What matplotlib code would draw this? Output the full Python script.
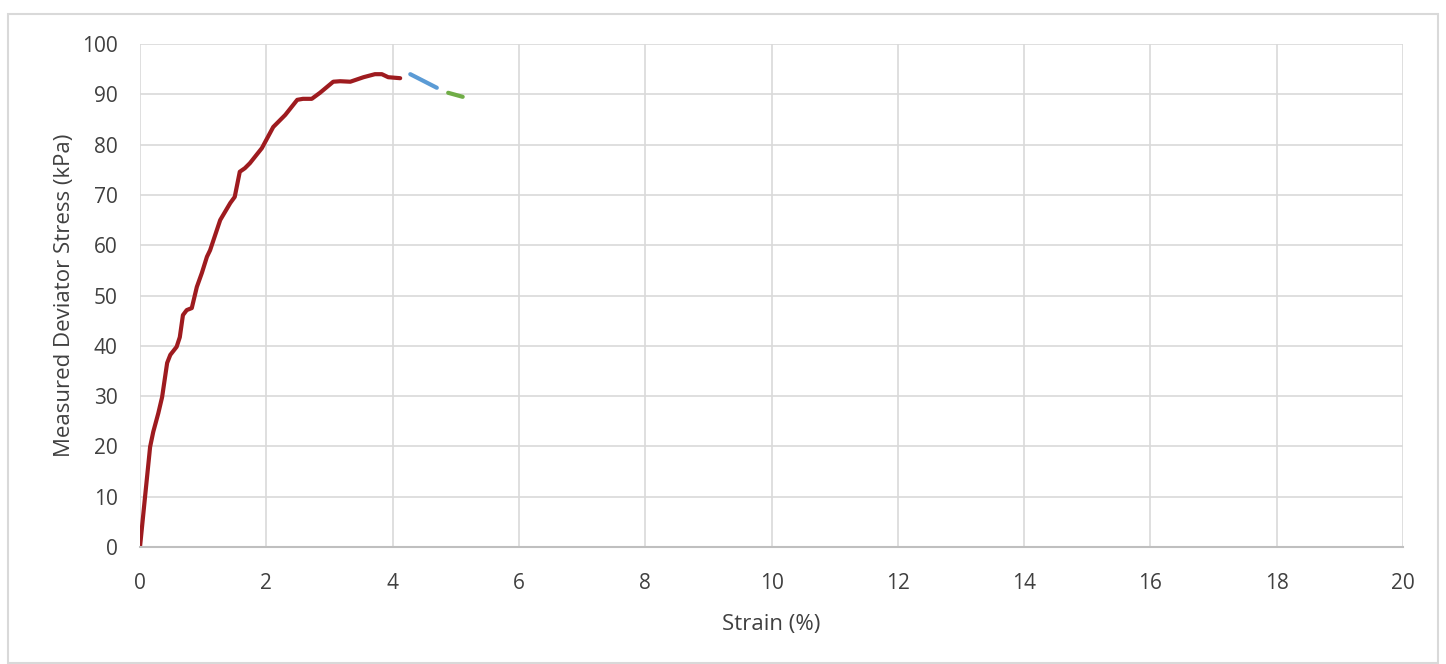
import numpy as np
import matplotlib.pyplot as plt
from matplotlib.patches import Rectangle

# Stress-strain curve (strain %, deviator stress kPa)
strain_main = [0, 0.08, 0.16, 0.21, 0.29, 0.35, 0.43, 0.48, 0.58, 0.63, 0.68, 0.74,
               0.82, 0.90, 0.98, 1.06, 1.11, 1.27, 1.43, 1.50, 1.58, 1.66, 1.74,
               1.93, 2.11, 2.30, 2.49, 2.58, 2.72, 2.85, 3.06, 3.17, 3.33, 3.54,
               3.72, 3.83, 3.93, 4.12]
stress_main = [0, 10.0, 19.9, 22.9, 26.6, 29.8, 36.6, 38.2, 39.8, 41.7, 46.1, 47.1,
               47.5, 51.7, 54.5, 57.7, 59.0, 65.0, 68.4, 69.6, 74.6, 75.3, 76.3,
               79.3, 83.5, 85.9, 88.9, 89.1, 89.1, 90.3, 92.5, 92.6, 92.5, 93.4,
               94.0, 94.0, 93.4, 93.2]

strain_blue = [4.28, 4.70]
stress_blue = [94.0, 91.3]

strain_green = [4.88, 5.11]
stress_green = [90.3, 89.5]

xticks = np.arange(0, 21, 2)
yticks = np.arange(0, 101, 10)

plt.rcParams['font.family'] = ['Open Sans', 'DejaVu Sans']

fig = plt.figure(figsize=(14.46, 6.64), dpi=100)
ax = fig.add_axes([140 / 1446, 1 - 547 / 664, (1403 - 140) / 1446, (547 - 44) / 664])

ax.plot(strain_main, stress_main, color='#9E1B1F', lw=3, solid_capstyle='round',
        solid_joinstyle='round')
ax.plot(strain_blue, stress_blue, color='#5B9BD5', lw=3, solid_capstyle='round')
ax.plot(strain_green, stress_green, color='#70AD47', lw=3, solid_capstyle='round')

ax.set_xlim(0, 20)
ax.set_ylim(0, 100)
ax.set_xticks(xticks)
ax.set_yticks(yticks)
ax.grid(True, color='#D9D9D9', lw=1.2)
ax.set_axisbelow(True)
ax.tick_params(length=0, labelsize=15, colors='#404040')
ax.tick_params(axis='x', pad=19)
ax.tick_params(axis='y', pad=16)
for s in ['top', 'right', 'left']:
    ax.spines[s].set_visible(False)
ax.spines['bottom'].set_color('#BFBFBF')
ax.spines['bottom'].set_linewidth(1.5)

ax.set_xlabel('Strain (%)', fontsize=16, color='#404040', labelpad=14)
ax.set_ylabel('Measured Deviator Stress (kPa)', fontsize=16, color='#404040', labelpad=5)

fig.patches.append(Rectangle((8 / 1446, 0.002), 1430 / 1446, 1 - 14 / 664 - 0.002,
                             transform=fig.transFigure, fill=False,
                             edgecolor='#D9D9D9', lw=1.5))

fig.savefig('out.png', dpi=100)
